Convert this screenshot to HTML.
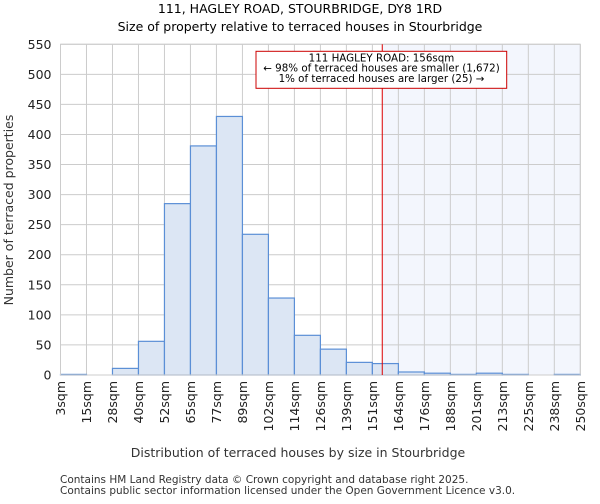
<!DOCTYPE html>
<html><head><meta charset="utf-8"><style>
body{margin:0;background:#fff;font-family:"DejaVu Sans","Liberation Sans",sans-serif;}
svg text{font-family:"DejaVu Sans","Liberation Sans",sans-serif;}
</style></head><body>
<svg id="chart" width="600" height="500" xmlns="http://www.w3.org/2000/svg">
<text x="300" y="13" text-anchor="middle" font-size="12.5" fill="#000">111, HAGLEY ROAD, STOURBRIDGE, DY8 1RD</text>
<text x="300" y="31" text-anchor="middle" font-size="12.5" fill="#000">Size of property relative to terraced houses in Stourbridge</text>
<g id="grid"></g><g id="bars"></g><g id="axes"></g>
<text x="298" y="457" text-anchor="middle" font-size="12.5" fill="#333">Distribution of terraced houses by size in Stourbridge</text>
<text transform="translate(13,210) rotate(-90)" text-anchor="middle" font-size="12.5" fill="#333">Number of terraced properties</text>
<text x="60" y="483" font-size="10.5" fill="#333">Contains HM Land Registry data © Crown copyright and database right 2025.</text>
<text x="60" y="494" font-size="10.5" fill="#333">Contains public sector information licensed under the Open Government Licence v3.0.</text>
</svg>
<script>
const binLabels=["3sqm","15sqm","28sqm","40sqm","52sqm","65sqm","77sqm","89sqm","102sqm","114sqm","126sqm","139sqm","151sqm","164sqm","176sqm","188sqm","201sqm","213sqm","225sqm","238sqm","250sqm"];
const counts=[1,0,11,56,285,381,430,234,128,66,43,21,19,5,3,1,3,1,0,1];
const yTicks=[0,50,100,150,200,250,300,350,400,450,500,550];
const markerBin=12.38;
const annotationLines=["111 HAGLEY ROAD: 156sqm","← 98% of terraced houses are smaller (1,672)","1% of terraced houses are larger (25) →"];
const NS="http://www.w3.org/2000/svg";
const L=60.5,R=580.3,T=44.3,B=375,yMax=550;
const nb=counts.length;
const xs=i=>L+(R-L)*i/nb;
const ys=v=>B-(B-T)*v/yMax;
function mk(parent,tag,attrs){const e=document.createElementNS(NS,tag);for(const k in attrs)e.setAttribute(k,attrs[k]);document.getElementById(parent).appendChild(e);return e;}
const mx=xs(markerBin);
let e=mk("grid","rect",{x:mx,y:T,width:R-mx,height:B-T,fill:"#f3f6fd"});


yTicks.forEach(t=>{
 e=mk("grid","line",{x1:L,x2:R,y1:ys(t),y2:ys(t),stroke:"#cccccc","stroke-width":1});
 
 
 e=mk("axes","text",{x:L-9,y:ys(t)+4.5,"text-anchor":"end","font-size":"12.5",fill:"#222"});
 e.textContent=t;
 
 
});
binLabels.forEach((l,i)=>{
 e=mk("grid","line",{x1:xs(i),x2:xs(i),y1:T,y2:B,stroke:"#cccccc","stroke-width":1});
 
 
 e=mk("axes","text",{transform:`translate(${xs(i)+4.5},${B+6}) rotate(-90)`,"text-anchor":"end","font-size":"12.5",fill:"#222"});
 e.textContent=l;
 
 
});
counts.forEach((c,i)=>{
 if(c<=0)return;
 e=mk("bars","rect",{x:xs(i),y:ys(c),width:xs(i+1)-xs(i),height:B-ys(c),fill:"#dce6f4",stroke:"#5b8fd6","stroke-width":1.2});
 
 
});
e=mk("axes","rect",{x:L,y:T,width:R-L,height:B-T,fill:"none",stroke:"#cccccc"});


e=mk("axes","line",{x1:mx,x2:mx,y1:T,y2:B,stroke:"#dd0000","stroke-width":1});


e=mk("axes","rect",{x:256,y:51.3,width:250.7,height:37,fill:"#fff",stroke:"#cc0000","stroke-width":1});


annotationLines.forEach((t,i)=>{
 e=mk("axes","text",{x:381.5,y:61.5+i*10.2,"text-anchor":"middle","font-size":"10.3",fill:"#000"});
 e.textContent=t;
 
 
});
</script>
</body></html>
